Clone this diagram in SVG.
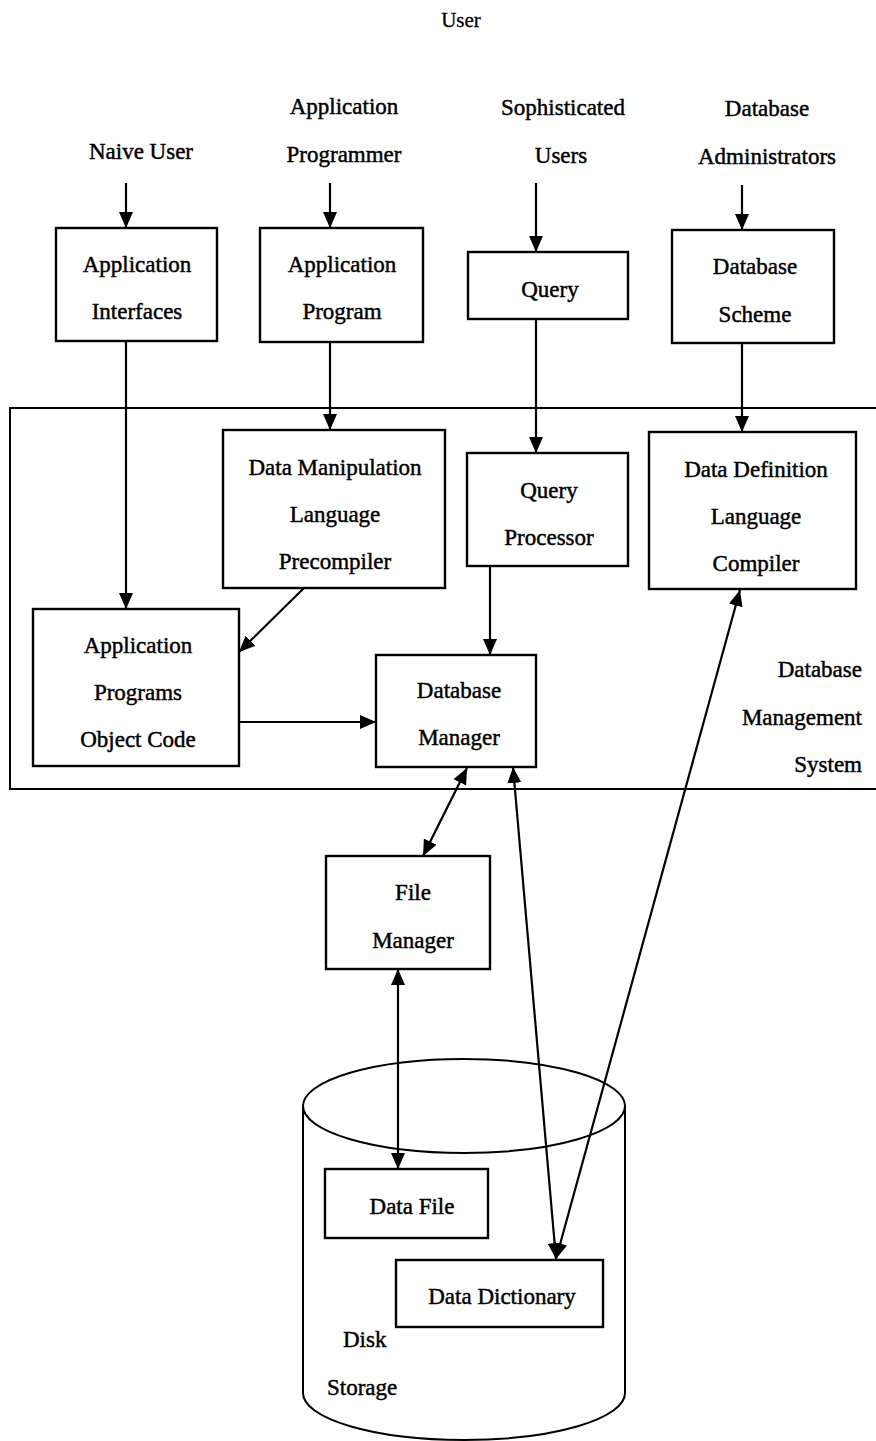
<svg xmlns="http://www.w3.org/2000/svg" width="876" height="1441" viewBox="0 0 876 1441">
  <style>
    text { font-family: "Liberation Serif", "Times New Roman", serif; font-size: 23px; fill: #000; stroke: #000; stroke-width: 0.45; }
    .c { text-anchor: middle; }
    .r { text-anchor: end; }
    .box { fill: #fff; stroke: #000; stroke-width: 2.4; }
    .ln { fill: none; stroke: #000; stroke-width: 2; }
    .ar { fill: none; stroke: #000; stroke-width: 2.2; marker-end: url(#ah); }
    .ar2 { fill: none; stroke: #000; stroke-width: 2.2; marker-end: url(#ah); marker-start: url(#ah); }
  </style>
  <defs>
    <marker id="ah" viewBox="0 0 16 14" refX="16" refY="7" markerWidth="16" markerHeight="14" markerUnits="userSpaceOnUse" orient="auto-start-reverse">
      <path d="M0,0 L16,7 L0,14 Z" fill="#000"/>
    </marker>
  </defs>
  <rect width="876" height="1441" fill="#fff"/>

  <g id="title"><text class="c" x="461" y="27" style="font-size:21px;stroke-width:0.3">User</text></g>

  <g id="actors">
    <text class="c" x="141" y="159">Naive User</text>
    <text class="c" x="344" y="114">Application</text>
    <text class="c" x="344" y="162">Programmer</text>
    <text class="c" x="563" y="115">Sophisticated</text>
    <text class="c" x="561" y="163">Users</text>
    <text class="c" x="767" y="116">Database</text>
    <text class="c" x="767" y="164">Administrators</text>
  </g>

  <g id="dbms">
    <path class="ln" d="M878,408 H10 V789 H878"/>
    <text class="r" x="862" y="677">Database</text>
    <text class="r" x="862" y="725">Management</text>
    <text class="r" x="862" y="772">System</text>
  </g>

  <g id="disk-storage">
    <path class="ln" d="M303,1106 V1393 A161,47 0 0 0 625,1393 V1106"/>
    <ellipse class="ln" cx="464" cy="1106" rx="161" ry="47"/>
    <text x="343" y="1347">Disk</text>
    <text x="327" y="1395">Storage</text>
  </g>

  <g id="connectors">
    <line class="ar" x1="126" y1="183" x2="126" y2="228"/>
    <line class="ar" x1="330" y1="183" x2="330" y2="228"/>
    <line class="ar" x1="536" y1="183" x2="536" y2="252"/>
    <line class="ar" x1="742" y1="185" x2="742" y2="230"/>
    <line class="ar" x1="126" y1="341" x2="126" y2="609"/>
    <line class="ar" x1="330" y1="342" x2="330" y2="430"/>
    <line class="ar" x1="536" y1="319" x2="536" y2="453"/>
    <line class="ar" x1="742" y1="343" x2="742" y2="432"/>
    <line class="ar" x1="304" y1="588" x2="239" y2="652"/>
    <line class="ar" x1="490" y1="566" x2="490" y2="655"/>
    <line class="ar" x1="239" y1="722" x2="376" y2="722"/>
    <line class="ar2" x1="423" y1="856" x2="467" y2="768"/>
    <line class="ar2" x1="556" y1="1259" x2="513" y2="767"/>
    <line class="ar2" x1="556" y1="1259" x2="740" y2="590"/>
    <line class="ar2" x1="398" y1="1169" x2="398" y2="969"/>
  </g>

  <g id="application-interfaces">
    <rect class="box" x="56" y="228" width="161" height="113"/>
    <text class="c" x="137" y="272">Application</text>
    <text class="c" x="137" y="319">Interfaces</text>
  </g>
  <g id="application-program">
    <rect class="box" x="260" y="228" width="163" height="114"/>
    <text class="c" x="342" y="272">Application</text>
    <text class="c" x="342" y="319">Program</text>
  </g>
  <g id="query">
    <rect class="box" x="468" y="252" width="160" height="67"/>
    <text class="c" x="550" y="297">Query</text>
  </g>
  <g id="database-scheme">
    <rect class="box" x="672" y="230" width="162" height="113"/>
    <text class="c" x="755" y="274">Database</text>
    <text class="c" x="755" y="322">Scheme</text>
  </g>
  <g id="dml-precompiler">
    <rect class="box" x="223" y="430" width="222" height="158"/>
    <text class="c" x="335" y="475">Data Manipulation</text>
    <text class="c" x="335" y="522">Language</text>
    <text class="c" x="335" y="569">Precompiler</text>
  </g>
  <g id="query-processor">
    <rect class="box" x="467" y="453" width="161" height="113"/>
    <text class="c" x="549" y="498">Query</text>
    <text class="c" x="549" y="545">Processor</text>
  </g>
  <g id="ddl-compiler">
    <rect class="box" x="649" y="432" width="207" height="157"/>
    <text class="c" x="756" y="477">Data Definition</text>
    <text class="c" x="756" y="524">Language</text>
    <text class="c" x="756" y="571">Compiler</text>
  </g>
  <g id="app-programs-object-code">
    <rect class="box" x="33" y="609" width="206" height="157"/>
    <text class="c" x="138" y="653">Application</text>
    <text class="c" x="138" y="700">Programs</text>
    <text class="c" x="138" y="747">Object Code</text>
  </g>
  <g id="database-manager">
    <rect class="box" x="376" y="655" width="160" height="112"/>
    <text class="c" x="459" y="698">Database</text>
    <text class="c" x="459" y="745">Manager</text>
  </g>
  <g id="file-manager">
    <rect class="box" x="326" y="856" width="164" height="113"/>
    <text class="c" x="413" y="900">File</text>
    <text class="c" x="413" y="948">Manager</text>
  </g>
  <g id="data-file">
    <rect class="box" x="325" y="1169" width="163" height="69"/>
    <text class="c" x="412" y="1214">Data File</text>
  </g>
  <g id="data-dictionary">
    <rect class="box" x="396" y="1260" width="207" height="67"/>
    <text class="c" x="502" y="1304">Data Dictionary</text>
  </g>
</svg>
